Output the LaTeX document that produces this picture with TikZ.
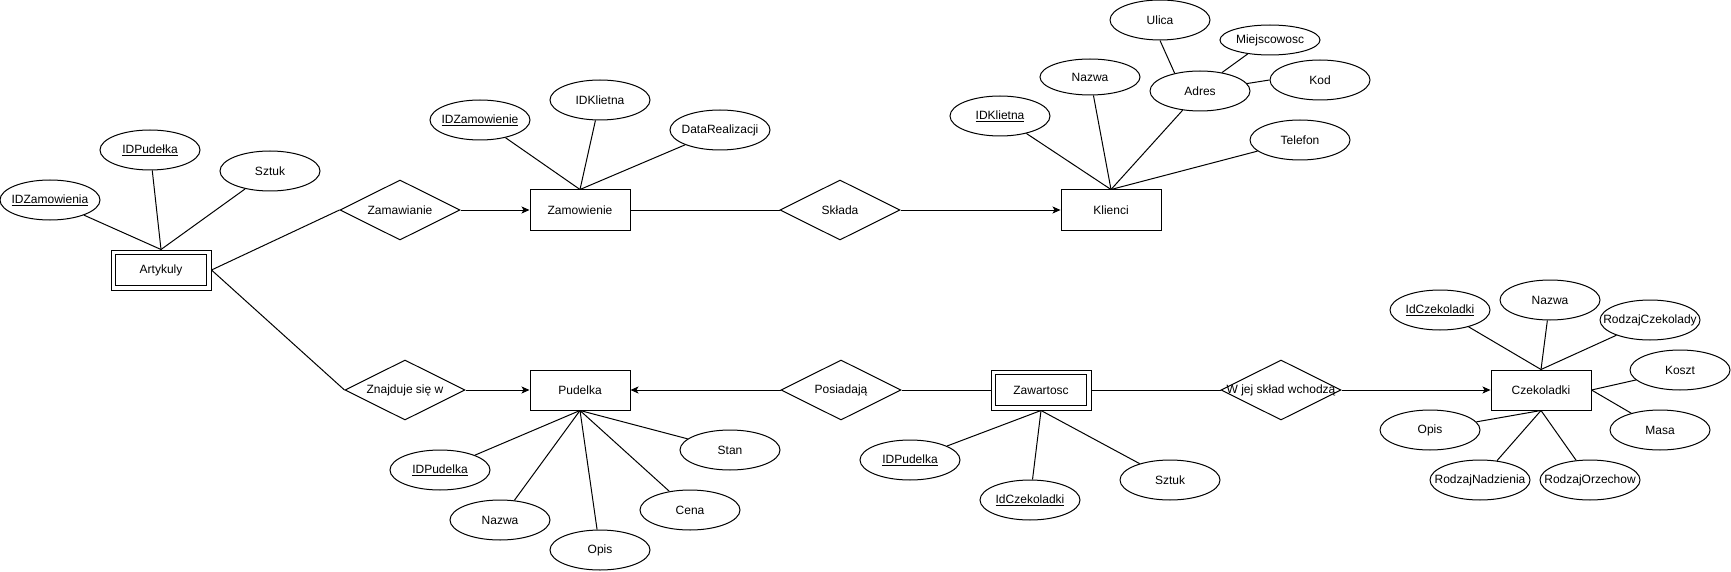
\documentclass[tikz,border=0pt]{standalone}
\usepackage{fontspec}
\setmainfont{Liberation Sans}
\usetikzlibrary{shapes.geometric,arrows.meta}
\begin{document}
\begin{tikzpicture}[x=1pt,y=-1pt,font=\fontsize{12}{14}\selectfont,
  ent/.style={draw, rectangle, minimum width=100pt, minimum height=40pt, inner sep=0pt, line width=1pt},
  attr/.style={draw, ellipse, minimum width=100pt, minimum height=40pt, inner sep=0pt, line width=1pt},
  rel/.style={draw, diamond, minimum width=120pt, minimum height=60pt, inner sep=0pt, line width=1pt},
  conn/.style={line width=1pt},
  arr/.style={line width=1pt, -{Stealth[length=8pt,width=7pt,inset=2pt]}}]
\useasboundingbox (0,0) rectangle (1731,572);

% entities
\node[ent] (art) at (161,270) {Artykuly};
\draw[conn] ([shift={(5pt,-5pt)}]art.north west) rectangle ([shift={(-5pt,5pt)}]art.south east);
\node[ent] (zamowienie) at (580,210) {Zamowienie};
\node[ent] (klienci) at (1111,210) {Klienci};
\node[ent] (pudelka) at (580,390) {Pudelka};
\node[ent] (zaw) at (1041,390) {Zawartosc};
\draw[conn] ([shift={(5pt,-5pt)}]zaw.north west) rectangle ([shift={(-5pt,5pt)}]zaw.south east);
\node[ent] (czek) at (1541,390) {Czekoladki};

% relationships
\node[rel, label={center:Zamawianie}] (zam) at (400,210) {};
\node[rel, label={center:Składa}] (sklada) at (840,210) {};
\node[rel, label={center:Znajduje się w}] (znaj) at (405,390) {};
\node[rel, label={center:Posiadają}] (posiad) at (841,390) {};
\node[rel, label={center:W jej skład wchodzą}] (wjej) at (1281,390) {};

% attributes of Artykuly
\node[attr, label={center:\underline{IDZamowienia}}] (a_idz) at (50,200) {};
\node[attr, label={center:\underline{IDPudełka}}] (a_idp) at (150,150) {};
\node[attr, label={center:Sztuk}] (a_szt) at (270,171) {};

% attributes of Zamowienie
\node[attr, label={center:\underline{IDZamowienie}}] (z_id) at (480,120) {};
\node[attr, label={center:IDKlietna}] (z_kl) at (600,100) {};
\node[attr, label={center:DataRealizacji}] (z_dr) at (720,130) {};

% attributes of Klienci
\node[attr, label={center:\underline{IDKlietna}}] (k_id) at (1000,116) {};
\node[attr, minimum height=36pt, label={center:Nazwa}] (k_naz) at (1090,77) {};
\node[attr, label={center:Adres}] (k_adr) at (1200,91) {};
\node[attr, label={center:Ulica}] (k_ul) at (1160,20) {};
\node[attr, minimum height=30pt, label={center:Miejscowosc}] (k_mie) at (1270,40) {};
\node[attr, label={center:Kod}] (k_kod) at (1320,80) {};
\node[attr, label={center:Telefon}] (k_tel) at (1300,140) {};

% attributes of Pudelka
\node[attr, label={center:\underline{IDPudelka}}] (p_id) at (440,470) {};
\node[attr, label={center:Nazwa}] (p_naz) at (500,520) {};
\node[attr, label={center:Opis}] (p_op) at (600,550) {};
\node[attr, label={center:Cena}] (p_cen) at (690,510) {};
\node[attr, label={center:Stan}] (p_stan) at (730,450) {};

% attributes of Zawartosc
\node[attr, label={center:\underline{IDPudelka}}] (w_idp) at (910,460) {};
\node[attr, label={center:\underline{IdCzekoladki}}] (w_idc) at (1030,500) {};
\node[attr, label={center:Sztuk}] (w_szt) at (1170,480) {};

% attributes of Czekoladki
\node[attr, label={center:\underline{IdCzekoladki}}] (c_id) at (1440,310) {};
\node[attr, label={center:Nazwa}] (c_naz) at (1550,300) {};
\node[attr, label={center:RodzajCzekolady}] (c_rcz) at (1650,320) {};
\node[attr, label={center:Koszt}] (c_kosz) at (1680,370) {};
\node[attr, label={center:Masa}] (c_masa) at (1660,430) {};
\node[attr, label={center:Opis}] (c_opis) at (1430,430) {};
\node[attr, label={center:RodzajNadzienia}] (c_rn) at (1480,480) {};
\node[attr, label={center:RodzajOrzechow}] (c_ro) at (1590,480) {};

% connectors
\draw[conn] (a_idz) -- (art.north);
\draw[conn] (a_idp) -- (art.north);
\draw[conn] (a_szt) -- (art.north);
\draw[conn] (art.east) -- (zam.west);
\draw[conn] (art.east) -- (znaj.west);
\draw[arr] (zam.east) -- (zamowienie.west);
\draw[conn] (zamowienie.east) -- (sklada.west);
\draw[arr] (sklada.east) -- (klienci.west);

\draw[conn] (z_id) -- (zamowienie.north);
\draw[conn] (z_kl) -- (zamowienie.north);
\draw[conn] (z_dr) -- (zamowienie.north);

\draw[conn] (k_id) -- (klienci.north);
\draw[conn] (k_naz) -- (klienci.north);
\draw[conn] (k_adr) -- (klienci.north);
\draw[conn] (k_tel) -- (klienci.north);
\draw[conn] (k_ul.south) -- (k_adr.145);
\draw[conn] (k_mie.212) -- (k_adr.40);
\draw[conn] (k_kod.west) -- (k_adr.9);

\draw[arr] (znaj.east) -- (pudelka.west);
\draw[arr] (posiad.west) -- (pudelka.east);
\draw[conn] (posiad.east) -- (zaw.west);
\draw[conn] (zaw.east) -- (wjej.west);
\draw[arr] (wjej.east) -- (czek.west);

\draw[conn] (p_id) -- (pudelka.south);
\draw[conn] (p_naz) -- (pudelka.south);
\draw[conn] (p_op) -- (pudelka.south);
\draw[conn] (p_cen) -- (pudelka.south);
\draw[conn] (p_stan) -- (pudelka.south);

\draw[conn] (w_idp) -- (zaw.south);
\draw[conn] (w_idc) -- (zaw.south);
\draw[conn] (w_szt) -- (zaw.south);

\draw[conn] (c_id) -- (czek.north);
\draw[conn] (c_naz) -- (czek.north);
\draw[conn] (c_rcz) -- (czek.north);
\draw[conn] (c_kosz) -- (czek.east);
\draw[conn] (c_masa) -- (czek.east);
\draw[conn] (c_opis) -- (czek.south);
\draw[conn] (c_rn) -- (czek.south);
\draw[conn] (c_ro) -- (czek.south);
\end{tikzpicture}
\end{document}
